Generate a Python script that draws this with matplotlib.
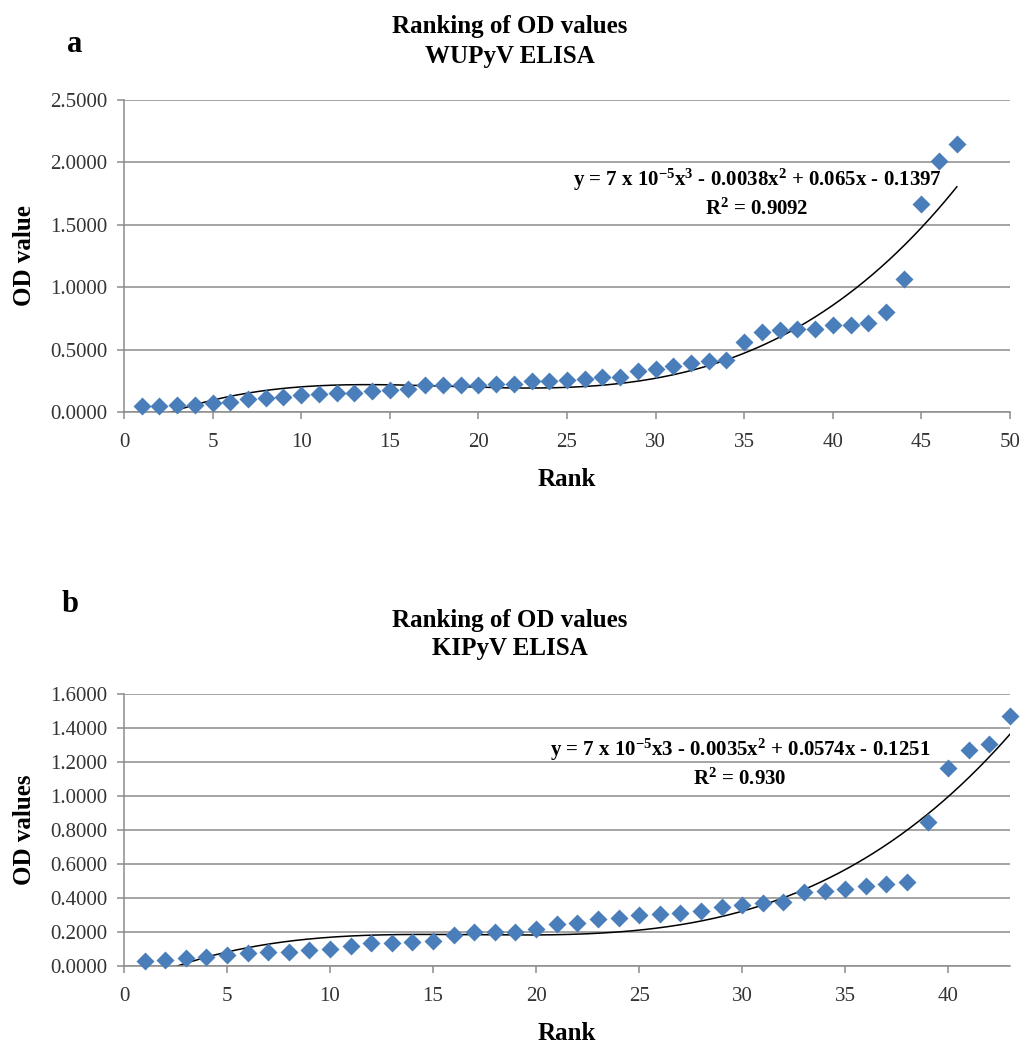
import numpy as np
import matplotlib
matplotlib.use('Agg')
import matplotlib.pyplot as plt

plt.rcParams['font.family'] = ['Liberation Serif', 'DejaVu Serif']

# panel a: WUPyV ELISA
wu_rank = list(range(1, 48))
wu_od = [0.045, 0.045, 0.056, 0.056, 0.069, 0.083, 0.104, 0.115, 0.123, 0.133,
         0.144, 0.149, 0.155, 0.168, 0.176, 0.187, 0.213, 0.213, 0.216, 0.219,
         0.224, 0.224, 0.245, 0.250, 0.256, 0.264, 0.280, 0.283, 0.328, 0.347,
         0.368, 0.395, 0.406, 0.417, 0.564, 0.638, 0.654, 0.662, 0.668, 0.694,
         0.694, 0.710, 0.801, 1.068, 1.664, 2.009, 2.145]

# panel b: KIPyV ELISA
ki_rank = list(range(1, 44))
ki_od = [0.029, 0.033, 0.049, 0.055, 0.065, 0.078, 0.082, 0.084, 0.094, 0.102,
         0.120, 0.133, 0.135, 0.141, 0.147, 0.180, 0.198, 0.200, 0.200, 0.220,
         0.249, 0.255, 0.276, 0.284, 0.298, 0.304, 0.310, 0.324, 0.349, 0.359,
         0.373, 0.378, 0.435, 0.439, 0.455, 0.471, 0.480, 0.492, 0.845, 1.163,
         1.273, 1.306, 1.473]

wu_eq = 'y = 7 x 10$^{-5}$x$^{3}$ - 0.0038x$^{2}$ + 0.065x - 0.1397'
wu_r2 = 'R$^{2}$ = 0.9092'
ki_eq = 'y = 7 x 10$^{-5}$x3 - 0.0035x$^{2}$ + 0.0574x - 0.1251'
ki_r2 = 'R$^{2}$ = 0.930'

plt.rcParams['mathtext.fontset'] = 'custom'
plt.rcParams['mathtext.rm'] = 'Liberation Serif:bold'
plt.rcParams['mathtext.default'] = 'rm'

GRID = '#8c8c8c'
BLUE = '#4a7ebb'


def rank_panel(ax, rank, od, xmax, ymax, ystep, ylabel, eq, r2, eq_xy, r2_xy):
    rank = np.asarray(rank, dtype=float)
    od = np.asarray(od)
    ax.set_xlim(0, xmax)
    ax.set_ylim(0, ymax)
    ax.set_yticks(np.arange(0, ymax + ystep / 2, ystep))
    ax.set_xticks(np.arange(0, xmax + 0.1, 5))
    ax.yaxis.set_major_formatter(matplotlib.ticker.FormatStrFormatter('%.4f'))
    ax.grid(axis='y', color=GRID, lw=1.1)
    ax.set_axisbelow(True)
    for s in ['top', 'right']:
        ax.spines[s].set_visible(False)
    for s in ['left', 'bottom']:
        ax.spines[s].set_color(GRID)
        ax.spines[s].set_linewidth(1.1)
    ax.tick_params(axis='both', direction='out', color=GRID, width=1.1,
                   length=5, labelsize=15, labelcolor='#333333')
    ax.tick_params(axis='x', pad=10)
    ax.tick_params(axis='y', pad=7)

    # cubic trendline fitted to the points
    coef = np.polyfit(rank, od, 3)
    xs = np.linspace(rank[0], rank[-1], 300)
    ax.plot(xs, np.polyval(coef, xs), color='black', lw=1.1, zorder=2)
    ax.plot(rank, od, 'D', color=BLUE, ms=9.5, mec='none', zorder=3, clip_on=False)

    ax.set_ylabel(ylabel, fontsize=18, fontweight='bold', labelpad=10)
    ax.set_xlabel('Rank', fontsize=18, fontweight='bold', labelpad=12)
    ax.text(eq_xy[0], eq_xy[1], eq, transform=ax.transAxes, ha='center',
            va='center', fontsize=15, fontweight='bold')
    ax.text(r2_xy[0], r2_xy[1], r2, transform=ax.transAxes, ha='center',
            va='center', fontsize=15, fontweight='bold')


fig = plt.figure(figsize=(10.22, 10.45), dpi=100)
ax_a = fig.add_axes([124 / 1022, (1045 - 412) / 1045, 886 / 1022, 312 / 1045])
ax_b = fig.add_axes([124 / 1022, (1045 - 966) / 1045, 886 / 1022, 272 / 1045])

rank_panel(ax_a, wu_rank, wu_od, 50, 2.5, 0.5, 'OD value', wu_eq, wu_r2,
           ((757 - 124) / 886, (412 - 180) / 312),
           ((757 - 124) / 886, (412 - 209) / 312))
rank_panel(ax_b, ki_rank, ki_od, 43, 1.6, 0.2, 'OD values', ki_eq, ki_r2,
           ((740 - 124) / 886, (966 - 750) / 272),
           ((740 - 124) / 886, (966 - 779) / 272))

fig.text(510 / 1022, 1 - 27 / 1045, 'Ranking of OD values', ha='center', va='center',
         fontsize=18, fontweight='bold')
fig.text(510 / 1022, 1 - 57 / 1045, 'WUPyV ELISA', ha='center', va='center',
         fontsize=18, fontweight='bold')
fig.text(510 / 1022, 1 - 620 / 1045, 'Ranking of OD values', ha='center', va='center',
         fontsize=18, fontweight='bold')
fig.text(510 / 1022, 1 - 648 / 1045, 'KIPyV ELISA', ha='center', va='center',
         fontsize=18, fontweight='bold')
fig.text(75 / 1022, 1 - 45 / 1045, 'a', ha='center', va='center',
         fontsize=22, fontweight='bold')
fig.text(70 / 1022, 1 - 605 / 1045, 'b', ha='center', va='center',
         fontsize=22, fontweight='bold')

fig.savefig('out.png', dpi=100, facecolor='white')
